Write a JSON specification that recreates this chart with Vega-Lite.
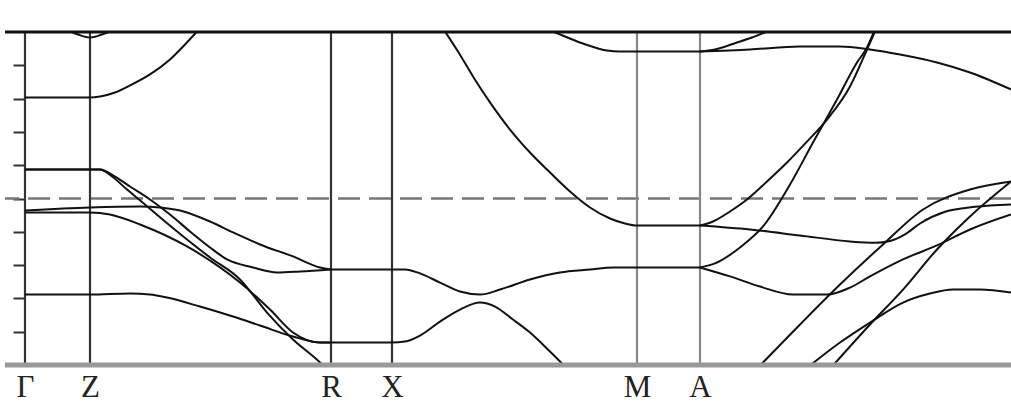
{
"$schema": "https://vega.github.io/schema/vega-lite/v6.json",
"width": 1006,
"height": 333,
"autosize": {"type": "none"},
"padding": {"left": 5, "top": 32, "right": 0, "bottom": 49},
"background": "white",
"config": {"view": {"stroke": null}},
"datasets": {
"bands": [
{"b":"zb","k":42,"e":1.01},{"b":"zb","k":53,"e":0.985},{"b":"zb","k":65,"e":0.967},{"b":"zb","k":77,"e":0.985},{"b":"zb","k":88,"e":1.01},
{"b":"g98","k":0,"e":0.607},{"b":"g98","k":65,"e":0.607},{"b":"g98","k":75,"e":0.613},{"b":"g98","k":90,"e":0.637},{"b":"g98","k":105,"e":0.679},{"b":"g98","k":125,"e":0.745},{"b":"g98","k":145,"e":0.835},{"b":"g98","k":160,"e":0.925},{"b":"g98","k":172,"e":1.003},
{"b":"d1","k":0,"e":0.174},{"b":"d1","k":65,"e":0.174},{"b":"d1","k":75,"e":0.174},{"b":"d1","k":90,"e":0.132},{"b":"d1","k":105,"e":0.072},{"b":"d1","k":125,"e":-0.006},{"b":"d1","k":145,"e":-0.096},{"b":"d1","k":165,"e":-0.198},{"b":"d1","k":185,"e":-0.294},{"b":"d1","k":202,"e":-0.366},{"b":"d1","k":228,"e":-0.414},{"b":"d1","k":252,"e":-0.444},{"b":"d1","k":275,"e":-0.438},{"b":"d1","k":306,"e":-0.426},
{"b":"d2","k":0,"e":0.174},{"b":"d2","k":65,"e":0.174},{"b":"d2","k":75,"e":0.174},{"b":"d2","k":87,"e":0.132},{"b":"d2","k":102,"e":0.054},{"b":"d2","k":120,"e":-0.036},{"b":"d2","k":140,"e":-0.138},{"b":"d2","k":162,"e":-0.246},{"b":"d2","k":185,"e":-0.354},{"b":"d2","k":215,"e":-0.486},{"b":"d2","k":242,"e":-0.685},{"b":"d2","k":268,"e":-0.847},{"b":"d2","k":295,"e":-0.985},{"b":"d2","k":298,"e":-1.003},
{"b":"a","k":0,"e":-0.072},{"b":"a","k":65,"e":-0.054},{"b":"a","k":115,"e":-0.048},{"b":"a","k":135,"e":-0.054},{"b":"a","k":155,"e":-0.072},{"b":"a","k":185,"e":-0.138},{"b":"a","k":208,"e":-0.204},{"b":"a","k":235,"e":-0.276},{"b":"a","k":268,"e":-0.348},{"b":"a","k":295,"e":-0.414},{"b":"a","k":306,"e":-0.426},
{"b":"bb","k":0,"e":-0.084},{"b":"bb","k":65,"e":-0.084},{"b":"bb","k":85,"e":-0.096},{"b":"bb","k":115,"e":-0.156},{"b":"bb","k":162,"e":-0.288},{"b":"bb","k":215,"e":-0.505},{"b":"bb","k":245,"e":-0.667},{"b":"bb","k":268,"e":-0.805},{"b":"bb","k":295,"e":-0.865},{"b":"bb","k":306,"e":-0.865},
{"b":"c","k":0,"e":-0.577},{"b":"c","k":65,"e":-0.577},{"b":"c","k":105,"e":-0.571},{"b":"c","k":125,"e":-0.577},{"b":"c","k":142,"e":-0.595},{"b":"c","k":175,"e":-0.649},{"b":"c","k":208,"e":-0.709},{"b":"c","k":235,"e":-0.763},{"b":"c","k":268,"e":-0.829},{"b":"c","k":295,"e":-0.865},{"b":"c","k":306,"e":-0.865},
{"b":"xu","k":306,"e":-0.426},{"b":"xu","k":367,"e":-0.426},{"b":"xu","k":380,"e":-0.426},{"b":"xu","k":395,"e":-0.45},{"b":"xu","k":415,"e":-0.505},{"b":"xu","k":435,"e":-0.559},{"b":"xu","k":455,"e":-0.577},{"b":"xu","k":475,"e":-0.547},{"b":"xu","k":505,"e":-0.486},{"b":"xu","k":535,"e":-0.444},{"b":"xu","k":565,"e":-0.426},{"b":"xu","k":588,"e":-0.414},{"b":"xu","k":612,"e":-0.414},{"b":"xu","k":675,"e":-0.414},
{"b":"xl","k":306,"e":-0.865},{"b":"xl","k":367,"e":-0.865},{"b":"xl","k":380,"e":-0.859},{"b":"xl","k":395,"e":-0.823},{"b":"xl","k":415,"e":-0.739},{"b":"xl","k":435,"e":-0.667},{"b":"xl","k":455,"e":-0.625},{"b":"xl","k":470,"e":-0.649},{"b":"xl","k":488,"e":-0.727},{"b":"xl","k":505,"e":-0.805},{"b":"xl","k":525,"e":-0.919},{"b":"xl","k":539,"e":-1.003},
{"b":"hb","k":420,"e":1.003},{"b":"hb","k":433,"e":0.883},{"b":"hb","k":448,"e":0.733},{"b":"hb","k":465,"e":0.577},{"b":"hb","k":485,"e":0.414},{"b":"hb","k":505,"e":0.276},{"b":"hb","k":525,"e":0.156},{"b":"hb","k":545,"e":0.042},{"b":"hb","k":565,"e":-0.054},{"b":"hb","k":585,"e":-0.12},{"b":"hb","k":600,"e":-0.15},{"b":"hb","k":612,"e":-0.162},{"b":"hb","k":675,"e":-0.162},
{"b":"tm","k":528,"e":1.003},{"b":"tm","k":540,"e":0.973},{"b":"tm","k":555,"e":0.937},{"b":"tm","k":570,"e":0.907},{"b":"tm","k":582,"e":0.889},{"b":"tm","k":595,"e":0.883},{"b":"tm","k":612,"e":0.883},{"b":"tm","k":675,"e":0.883},
{"b":"au","k":675,"e":0.883},{"b":"au","k":690,"e":0.895},{"b":"au","k":712,"e":0.937},{"b":"au","k":727,"e":0.967},{"b":"au","k":742,"e":1.003},
{"b":"af","k":675,"e":0.883},{"b":"af","k":725,"e":0.895},{"b":"af","k":775,"e":0.913},{"b":"af","k":815,"e":0.913},{"b":"af","k":845,"e":0.895},{"b":"af","k":875,"e":0.865},{"b":"af","k":912,"e":0.817},{"b":"af","k":945,"e":0.757},{"b":"af","k":986,"e":0.655},
{"b":"L1","k":675,"e":-0.162},{"b":"L1","k":688,"e":-0.138},{"b":"L1","k":705,"e":-0.078},{"b":"L1","k":722,"e":-0.006},{"b":"L1","k":742,"e":0.102},{"b":"L1","k":762,"e":0.216},{"b":"L1","k":782,"e":0.342},{"b":"L1","k":802,"e":0.474},{"b":"L1","k":825,"e":0.673},{"b":"L1","k":842,"e":0.895},{"b":"L1","k":850,"e":1.003},
{"b":"L2","k":675,"e":-0.414},{"b":"L2","k":690,"e":-0.39},{"b":"L2","k":715,"e":-0.294},{"b":"L2","k":738,"e":-0.168},{"b":"L2","k":765,"e":0.084},{"b":"L2","k":788,"e":0.336},{"b":"L2","k":812,"e":0.595},{"b":"L2","k":832,"e":0.817},{"b":"L2","k":842,"e":0.907},{"b":"L2","k":849,"e":1.003},
{"b":"U1","k":675,"e":-0.162},{"b":"U1","k":725,"e":-0.186},{"b":"U1","k":775,"e":-0.222},{"b":"U1","k":825,"e":-0.258},{"b":"U1","k":850,"e":-0.266},{"b":"U1","k":865,"e":-0.255},{"b":"U1","k":880,"e":-0.215},{"b":"U1","k":895,"e":-0.15},{"b":"U1","k":920,"e":-0.08},{"b":"U1","k":950,"e":-0.05},{"b":"U1","k":986,"e":-0.036},
{"b":"U2","k":675,"e":-0.414},{"b":"U2","k":705,"e":-0.468},{"b":"U2","k":735,"e":-0.529},{"b":"U2","k":768,"e":-0.577},{"b":"U2","k":802,"e":-0.577},{"b":"U2","k":825,"e":-0.535},{"b":"U2","k":845,"e":-0.468},{"b":"U2","k":878,"e":-0.366},{"b":"U2","k":912,"e":-0.282},{"b":"U2","k":945,"e":-0.186},{"b":"U2","k":986,"e":-0.096},
{"b":"S1","k":735,"e":-1.003},{"b":"S1","k":775,"e":-0.757},{"b":"S1","k":815,"e":-0.517},{"b":"S1","k":858,"e":-0.276},{"b":"S1","k":898,"e":-0.066},{"b":"S1","k":945,"e":0.054},{"b":"S1","k":986,"e":0.102},
{"b":"S2","k":808,"e":-1.003},{"b":"S2","k":845,"e":-0.757},{"b":"S2","k":878,"e":-0.547},{"b":"S2","k":912,"e":-0.306},{"b":"S2","k":945,"e":-0.108},{"b":"S2","k":986,"e":0.102},
{"b":"B3","k":785,"e":-1.003},{"b":"B3","k":815,"e":-0.865},{"b":"B3","k":845,"e":-0.745},{"b":"B3","k":878,"e":-0.625},{"b":"B3","k":905,"e":-0.571},{"b":"B3","k":928,"e":-0.547},{"b":"B3","k":955,"e":-0.547},{"b":"B3","k":986,"e":-0.565}
],
"sym": [
{"k":0,"c":"d"},{"k":65,"c":"d"},{"k":306,"c":"d"},{"k":367,"c":"d"},{"k":612,"c":"g"},{"k":675,"c":"g"}
]
},
"layer": [
{
"data": {"values": [{"e": 0}]},
"mark": {"type": "rule", "color": "#777", "strokeWidth": 2.5, "strokeDash": [22, 9]},
"encoding": {"y": {"field": "e", "type": "quantitative", "scale": {"domain": [-1, 1], "nice": false}}}
},
{
"data": {"name": "sym"},
"mark": {"type": "rule", "strokeWidth": 2.2},
"encoding": {
"x": {"field": "k", "type": "quantitative", "scale": {"domain": [-20, 986], "nice": false, "zero": false}},
"color": {"field": "c", "type": "nominal", "scale": {"domain": ["d", "g"], "range": ["#333", "#888"]}, "legend": null}
}
},
{
"data": {"name": "bands"},
"mark": {"type": "line", "interpolate": "monotone", "color": "#111", "strokeWidth": 2, "clip": true},
"encoding": {
"x": {"field": "k", "type": "quantitative", "scale": {"domain": [-20, 986], "nice": false, "zero": false},
"axis": {"values": [0, 65, 306, 367, 612, 675], "labelExpr": "datum.value==0?'Γ':datum.value==65?'Z':datum.value==306?'R':datum.value==367?'X':datum.value==612?'M':'A'", "ticks": false, "domain": false, "grid": false, "title": null, "labelFont": "Liberation Serif", "labelFontSize": 31, "labelColor": "#222", "labelPadding": 7, "labelFlush": false, "labelOverlap": false}},
"y": {"field": "e", "type": "quantitative", "scale": {"domain": [-1, 1], "nice": false},
"axis": {"values": [-0.8, -0.6, -0.4, -0.2, 0, 0.2, 0.4, 0.6, 0.8], "offset": -20, "domain": false, "labels": false, "ticks": true, "tickSize": 12, "tickWidth": 2, "tickColor": "#333", "grid": false, "title": null}},
"detail": {"field": "b", "type": "nominal"}
}
},
{
"data": {"values": [{"e": 1}]},
"mark": {"type": "rule", "color": "#111", "strokeWidth": 3},
"encoding": {"y": {"field": "e", "type": "quantitative"}}
},
{
"data": {"values": [{"e": -1}]},
"mark": {"type": "rule", "color": "#999", "strokeWidth": 5},
"encoding": {"y": {"field": "e", "type": "quantitative"}}
}
]
}
